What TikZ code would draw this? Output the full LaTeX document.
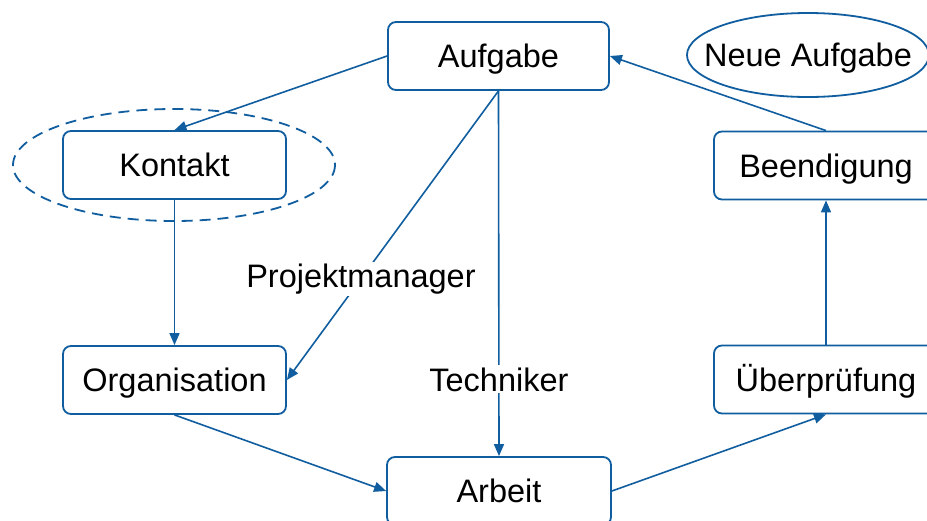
\documentclass[tikz,border=0pt]{standalone}
\usepackage{fontspec}
\setmainfont{Liberation Sans}
\usetikzlibrary{arrows.meta,shapes.geometric}
\definecolor{blu}{RGB}{16,94,160}
\begin{document}
\begin{tikzpicture}[x=1pt,y=-1pt,
  box/.style={draw=blu,line width=1.8pt,rounded corners=8pt,fill=white,minimum height=68pt,inner sep=0pt,text height=23.5pt,text depth=0pt,font=\fontsize{32.5}{36}\selectfont},
  lbl/.style={fill=white,inner sep=2pt,font=\fontsize{32.5}{36}\selectfont},
  conn/.style={draw=blu,line width=1.6pt,-{Triangle[length=12pt,width=10pt]}}]
\clip (0,0) rectangle (927,520);
\fill[white] (0,0) rectangle (927,520);
\draw[blu,line width=1.8pt,dash pattern=on 11pt off 7pt] (174,165) ellipse [x radius=161, y radius=56];
\node[box,minimum width=221pt] (auf) at (498.5,56) {Aufgabe};
\node[inner sep=0pt,text height=23.5pt,text depth=0pt,font=\fontsize{32.5}{36}\selectfont] (neu) at (808,55) {Neue Aufgabe};
\draw[blu,line width=1.8pt] (neu.center) ellipse [x radius=121, y radius=42];
\node[box,minimum width=223pt] (kon) at (174.5,165) {Kontakt};
\node[box,minimum width=224pt] (bee) at (826,165.5) {Beendigung};
\node[box,minimum width=223pt] (org) at (174.5,380) {Organisation};
\node[box,minimum width=224pt] (ueb) at (826,379.5) {Überprüfung};
\node[box,minimum width=224pt] (arb) at (499,491) {Arbeit};
\draw[conn] (auf.west) -- (kon.north);
\draw[conn] (kon.south) -- (org.north);
\draw[conn] (auf.south) -- node[lbl,pos=0.65] {Projektmanager} (org.east);
\draw[conn] (auf.south) -- node[lbl,pos=0.79] {Techniker} (arb.north);
\draw[conn] (org.south) -- (arb.west);
\draw[conn] (arb.east) -- (ueb.south);
\draw[conn] (ueb.north) -- (bee.south);
\draw[conn] (bee.north) -- (auf.east);
\end{tikzpicture}
\end{document}
